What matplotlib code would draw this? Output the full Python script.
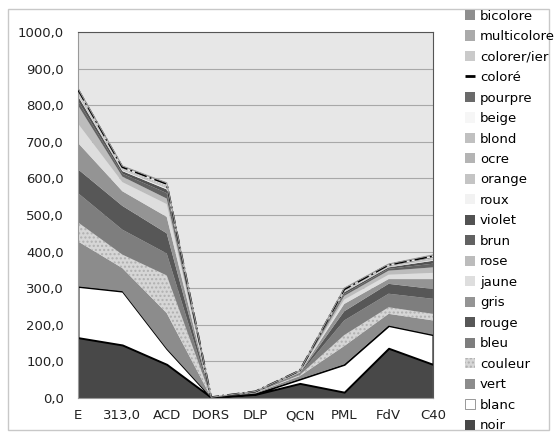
import numpy as np
import matplotlib
matplotlib.use("Agg")
import matplotlib.pyplot as plt
from matplotlib.patches import Patch, Rectangle
from matplotlib.lines import Line2D
from matplotlib.ticker import FuncFormatter

# categories along the x axis
categories = ['E', '313,0', 'ACD', 'DORS', 'DLP', 'QCN', 'PML', 'FdV', 'C40']

# series values (stacked, bottom to top)
noir        = [165, 145, 92, 2, 10, 40, 16, 136, 92]
blanc       = [140, 147, 43, 0, 2, 12, 76, 62, 81]
vert        = [123, 63, 97, 0, 2, 8, 50, 32, 39]
couleur     = [52, 37, 103, 0, 1, 3, 30, 18, 18]
bleu        = [80, 68, 60, 0, 1, 3, 40, 37, 41]
rouge       = [65, 65, 55, 0, 1, 2, 25, 27, 27]
gris        = [72, 40, 45, 0, 1, 2, 20, 13, 27]
jaune       = [53, 25, 35, 0, 0, 1, 12, 12, 17]
rose        = [50, 15, 15, 0, 0, 1, 10, 11, 15]
brun        = [12, 8, 15, 0, 0, 1, 5, 5, 10]
violet      = [13, 7, 10, 0, 0, 1, 5, 4, 8]
roux        = [3, 2, 3, 0, 0, 0, 1, 1, 2]
orange      = [3, 2, 2, 0, 0, 0, 1, 1, 2]
ocre        = [3, 1, 2, 0, 0, 0, 1, 1, 2]
blond       = [2, 1, 1, 0, 0, 0, 1, 1, 1]
beige       = [2, 1, 1, 0, 0, 0, 1, 0, 1]
pourpre     = [2, 1, 1, 0, 0, 0, 1, 1, 2]
colore      = [3, 3, 5, 0, 0, 1, 2, 2, 3]
colorer     = [1, 1, 1, 0, 0, 0, 1, 1, 1]
multicolore = [1, 1, 1, 0, 0, 0, 1, 1, 1]
bicolore    = [1, 1, 1, 0, 0, 0, 1, 0, 1]

series = [
    ('noir', noir, '#484848'),
    ('blanc', blanc, '#ffffff'),
    ('vert', vert, '#8c8c8c'),
    ('couleur', couleur, '#d6d6d6'),
    ('bleu', bleu, '#7e7e7e'),
    ('rouge', rouge, '#575757'),
    ('gris', gris, '#949494'),
    ('jaune', jaune, '#dedede'),
    ('rose', rose, '#bcbcbc'),
    ('brun', brun, '#626262'),
    ('violet', violet, '#525252'),
    ('roux', roux, '#f2f2f2'),
    ('orange', orange, '#c4c4c4'),
    ('ocre', ocre, '#b4b4b4'),
    ('blond', blond, '#c0c0c0'),
    ('beige', beige, '#f6f6f6'),
    ('pourpre', pourpre, '#6a6a6a'),
    ('coloré', colore, '#ececec'),
    ('colorer/ier', colorer, '#cacaca'),
    ('multicolore', multicolore, '#aaaaaa'),
    ('bicolore', bicolore, '#8e8e8e'),
]

fig = plt.figure(figsize=(5.55, 4.37), dpi=100)
fig.patches.append(Rectangle((0.015, 0.015), 0.975, 0.965, transform=fig.transFigure,
                             fill=False, edgecolor='#c8c8c8', linewidth=1))

ax = fig.add_axes([0.1405, 0.0892, 0.6396, 0.8375])
ax.set_facecolor('#e7e7e7')

x = np.arange(len(categories))
names = [s[0] for s in series]
vals = [s[1] for s in series]
cols = [s[2] for s in series]

polys = ax.stackplot(x, *vals, colors=cols, linewidth=0, zorder=2)

# blanc has a black outline, couleur is speckled
polys[1].set_edgecolor('black')
polys[1].set_linewidth(1.4)
polys[3].set_hatch('....')
polys[3].set_edgecolor('#b0b0b0')
polys[3].set_linewidth(0)

# dash-dot outline for the "coloré" series
tops = np.cumsum(np.array(vals), axis=0)
ax.plot(x, tops[17], color='black', linestyle='-.', linewidth=1.4, zorder=3)
ax.plot(x, tops[-1], color='#999999', linewidth=0.8, zorder=3)

ax.set_xlim(0, len(categories) - 1)
ax.set_ylim(0, 1000)
ax.set_yticks(np.arange(0, 1001, 100))
ax.yaxis.set_major_formatter(FuncFormatter(lambda v, p: f'{v:.1f}'.replace('.', ',')))
ax.set_xticks(x)
ax.set_xticklabels(categories)
ax.grid(axis='y', color='#a8a8a8', linewidth=0.8, zorder=1)
ax.set_axisbelow(True)
ax.tick_params(axis='both', labelsize=9.5, length=0, colors='#222222')
ax.tick_params(axis='y', pad=10)
ax.tick_params(axis='x', pad=8)
for side in ['top', 'right']:
    ax.spines[side].set_color('#555555')
for side in ['left', 'bottom']:
    ax.spines[side].set_color('#999999')

handles = []
for name, _, c in series[::-1]:
    if name == 'coloré':
        handles.append(Line2D([0], [0], color='black', linestyle='-.', linewidth=2))
    elif name == 'blanc':
        handles.append(Patch(facecolor=c, edgecolor='#888888', linewidth=0.6))
    elif name == 'couleur':
        handles.append(Patch(facecolor=c, hatch='....', edgecolor='#b0b0b0', linewidth=0))
    else:
        handles.append(Patch(facecolor=c, edgecolor='none'))

fig.legend(handles, names[::-1], loc='upper left', bbox_to_anchor=(0.828, 0.99),
           frameon=False, fontsize=9.5, handlelength=0.8, handleheight=0.8,
           handletextpad=0.35, labelspacing=0.567, borderaxespad=0)

fig.savefig('out.png', dpi=100)
